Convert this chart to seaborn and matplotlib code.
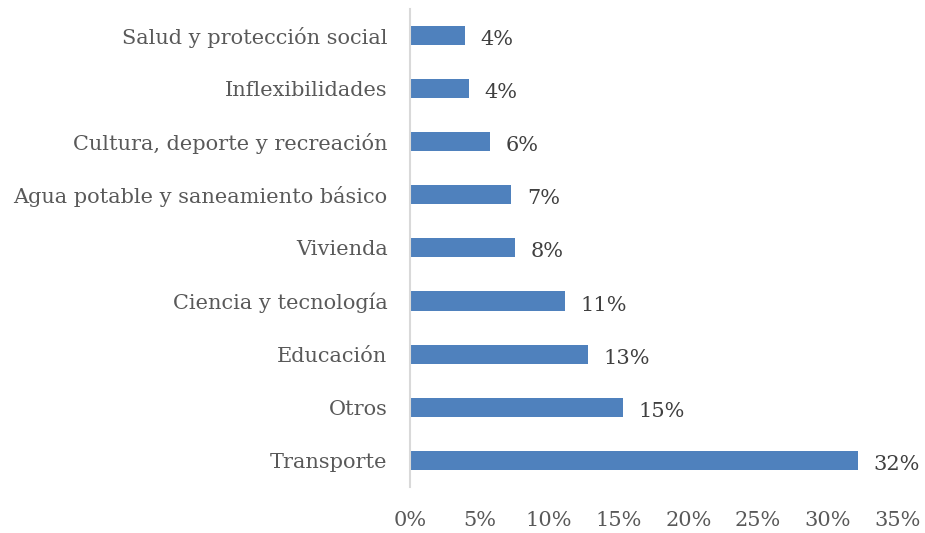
import matplotlib
matplotlib.use('Agg')
import matplotlib.pyplot as plt
import seaborn as sns
import pandas as pd
from matplotlib.ticker import FuncFormatter

# Data (share of total, %)
categories = ['Salud y protección social', 'Inflexibilidades', 'Cultura, deporte y recreación',
              'Agua potable y saneamiento básico', 'Vivienda', 'Ciencia y tecnología',
              'Educación', 'Otros', 'Transporte']
values = [4.0, 4.25, 5.75, 7.3, 7.55, 11.15, 12.8, 15.3, 32.2]
labels = ['4%', '4%', '6%', '7%', '8%', '11%', '13%', '15%', '32%']

df = pd.DataFrame({'sector': categories, 'share': values})

sns.set_style('white')
plt.rcParams['font.family'] = ['DejaVu Serif']
text_color = '#404040'
tick_color = '#595959'

fig = plt.figure(figsize=(9.25, 5.33), dpi=100)
ax = fig.add_axes([0.443, 0.086, 0.527, 0.898])

sns.barplot(data=df, y='sector', x='share', orient='h', color='#4F81BD',
            saturation=1, width=0.36, linewidth=0, ax=ax)

# value labels at the end of each bar
for i, (v, lab) in enumerate(zip(values, labels)):
    ax.text(v + 1.1, i + 0.04, lab, va='center_baseline', ha='left', fontsize=15,
            color=text_color)

ax.set_xlim(0, 35)
ax.set_ylim(8.5, -0.5)
ax.set_xticks(range(0, 36, 5))
ax.xaxis.set_major_formatter(FuncFormatter(lambda x, _: f'{int(x)}%'))
ax.set_xlabel('')
ax.set_ylabel('')
ax.tick_params(axis='x', labelsize=15, colors=tick_color, length=0, pad=17)
ax.tick_params(axis='y', labelsize=15, colors=tick_color, length=0, pad=16)

for side in ['top', 'right', 'bottom']:
    ax.spines[side].set_visible(False)
ax.spines['left'].set_color('#D9D9D9')
ax.spines['left'].set_linewidth(1.5)

fig.savefig('out.png', dpi=100)
